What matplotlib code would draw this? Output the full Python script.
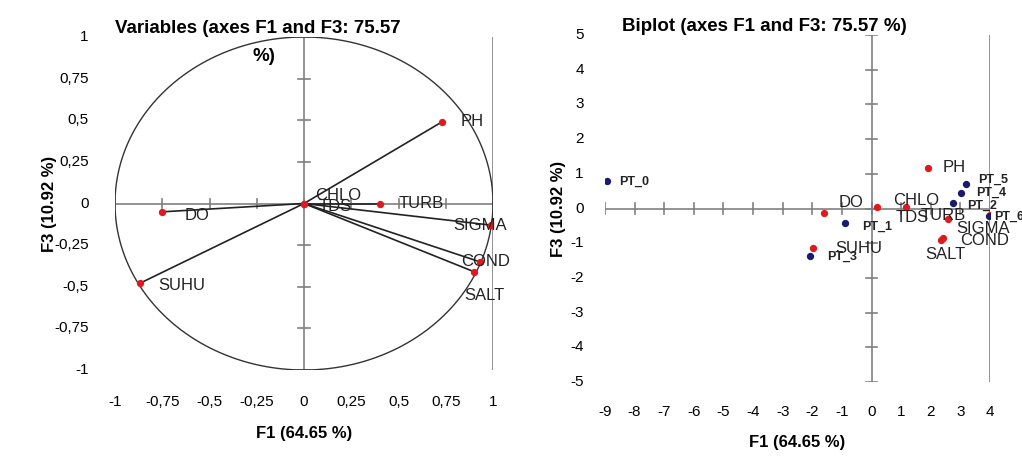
import matplotlib
matplotlib.use("Agg")
import matplotlib.pyplot as plt
import matplotlib.transforms as mtrans
import numpy as np

var_names = ["PH", "TURB", "SIGMA", "COND", "SALT", "CHLO", "TDS", "DO", "SUHU"]
var_f1 = [0.73, 0.40, 0.99, 0.93, 0.90, 0.0, 0.0, -0.75, -0.87]
var_f3 = [0.49, 0.0, -0.13, -0.35, -0.41, 0.0, 0.0, -0.05, -0.48]

bi_var_f1 = [1.89, 2.57, 4.0, 2.33, 2.40, 0.17, 1.15, -1.62, -1.96]
bi_var_f3 = [1.18, -0.29, -0.20, -0.92, -0.84, 0.03, 0.03, -0.12, -1.15]

obs_names = ["PT_0", "PT_1", "PT_2", "PT_3", "PT_4", "PT_5", "PT_6"]
obs_f1 = [-8.92, -0.91, 2.74, -2.09, 3.02, 3.20, 3.95]
obs_f3 = [0.78, -0.43, 0.17, -1.38, 0.46, 0.72, -0.23]

left_ticks = [-1, -0.75, -0.5, -0.25, 0, 0.25, 0.5, 0.75, 1]
left_labels = ["-1", "-0,75", "-0,5", "-0,25", "0", "0,25", "0,5", "0,75", "1"]
right_xticks = list(range(-9, 5))
right_yticks = list(range(-5, 6))

plt.rcParams['font.family'] = ['Liberation Sans', 'DejaVu Sans']
fig = plt.figure(figsize=(10.22, 4.57), dpi=100)
W, H = 1022, 457
axL = fig.add_axes([115/W, 1-370/H, 378/W, 333/H])
axR = fig.add_axes([605/W, 1-382/H, 385/W, 347/H])
gray = '#808080'

def setup(ax, xt, xl, yt, yl, xlim, ylim, xpad, ypad):
    ax.set_xlim(*xlim); ax.set_ylim(*ylim)
    for s in ['top', 'right', 'left', 'bottom']:
        ax.spines[s].set_visible(False)
    ax.axhline(0, color=gray, lw=1.2, zorder=0)
    ax.axvline(0, color=gray, lw=1.2, zorder=0)
    ax.set_xticks([]); ax.set_yticks([])
    dx = (xlim[1]-xlim[0])*0.015
    dy = (ylim[1]-ylim[0])*0.015
    for v in xt:
        ax.plot([v, v], [-dy, dy], color=gray, lw=1.2, zorder=0)
    for v in yt:
        ax.plot([-dx, dx], [v, v], color=gray, lw=1.2, zorder=0)
    tx = mtrans.blended_transform_factory(ax.transData, ax.transAxes)
    ty = mtrans.blended_transform_factory(ax.transAxes, ax.transData)
    for v, l in zip(xt, xl):
        ax.text(v, -xpad, l, transform=tx, ha='center', va='top', fontsize=11)
    for v, l in zip(yt, yl):
        ax.text(-ypad, v, l, transform=ty, ha='right', va='center', fontsize=11)

setup(axL, left_ticks, left_labels, left_ticks, left_labels, (-1, 1), (-1, 1), 0.075, 0.07)
axL.axvline(1, color=gray, lw=1.2, zorder=0)
th = np.linspace(0, 2*np.pi, 400)
axL.plot(np.cos(th), np.sin(th), color='#333333', lw=1)
for x, y in zip(var_f1, var_f3):
    axL.plot([0, x], [0, y], color='#222222', lw=1.2)
axL.scatter(var_f1, var_f3, color='#e0191e', s=18, zorder=3)
offL = {"PH": (0.1, 0), "TURB": (0.1, 0), "SIGMA": (-0.2, 0.0), "COND": (-0.1, 0.0),
        "SALT": (-0.05, -0.14), "CHLO": (0.06, 0.05), "TDS": (0.08, -0.02), "DO": (0.12, -0.02), "SUHU": (0.1, -0.01)}
for n, x, y in zip(var_names, var_f1, var_f3):
    ox, oy = offL[n]
    axL.text(x+ox, y+oy, n, fontsize=12, va='center', color='#222222')
axL.set_xlabel("F1 (64.65 %)", fontsize=12, fontweight='bold', labelpad=40)
axL.set_ylabel("F3 (10.92 %)", fontsize=12, fontweight='bold', labelpad=42)
axL.text(0.0, 1.0, "Variables (axes F1 and F3: 75.57", transform=axL.transAxes,
         fontsize=13.5, fontweight='bold', va='bottom', ha='left')
axL.text(-0.21, 0.88, "%)", fontsize=13.5, fontweight='bold', va='center', ha='center')

setup(axR, right_xticks, [str(v) for v in right_xticks], right_yticks, [str(v) for v in right_yticks],
      (-9, 4), (-5, 5), 0.065, 0.055)
axR.axvline(4, color=gray, lw=1.2, zorder=0)
axR.scatter(bi_var_f1, bi_var_f3, color='#e0191e', s=18, zorder=3)
axR.scatter(obs_f1, obs_f3, color='#1a1a6e', s=18, zorder=3)
offR = {"PH": (0.5, 0), "TURB": (-0.9, 0.1), "SIGMA": (-1.15, -0.38), "COND": (0.67, 0.0),
        "SALT": (-0.6, -0.5), "CHLO": (0.55, 0.2), "TDS": (-0.35, -0.3), "DO": (0.5, 0.3), "SUHU": (0.75, 0.0)}
for n, x, y in zip(var_names, bi_var_f1, bi_var_f3):
    ox, oy = offR[n]
    axR.text(x+ox, y+oy, n, fontsize=12, va='center', color='#222222')
offO = {"PT_0": (0.4, 0), "PT_1": (0.6, -0.1), "PT_2": (0.5, -0.1), "PT_3": (0.6, 0.0),
        "PT_4": (0.5, 0.0), "PT_5": (0.4, 0.1), "PT_6": (0.2, 0)}
for n, x, y in zip(obs_names, obs_f1, obs_f3):
    ox, oy = offO[n]
    axR.text(x+ox, y+oy, n, fontsize=9, fontweight='bold', va='center', color='#222222')
axR.set_xlabel("F1 (64.65 %)", fontsize=12, fontweight='bold', labelpad=38)
axR.set_ylabel("F3 (10.92 %)", fontsize=12, fontweight='bold', labelpad=28)
axR.text(0.045, 1.0, "Biplot (axes F1 and F3: 75.57 %)", transform=axR.transAxes,
         fontsize=13.5, fontweight='bold', va='bottom', ha='left')

fig.savefig("out.png", dpi=100)
